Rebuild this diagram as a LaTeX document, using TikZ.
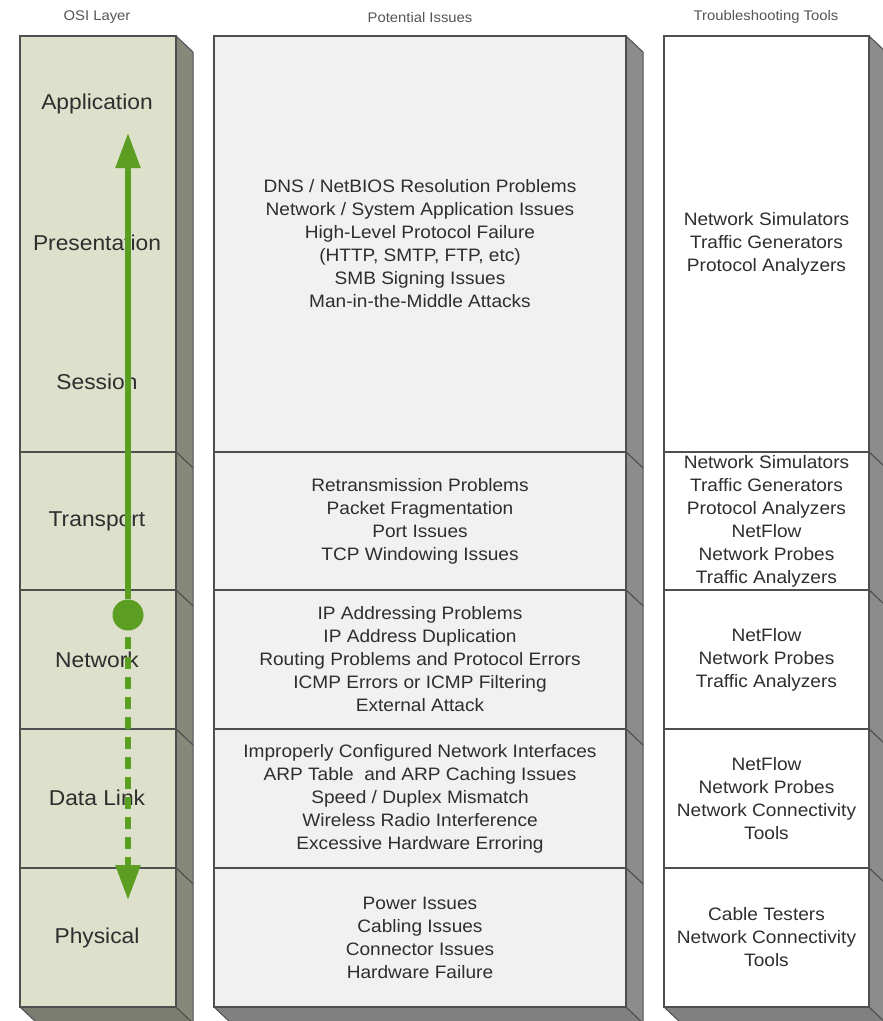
\documentclass[tikz,border=0pt]{standalone}
\usepackage{fontspec}
\setmainfont{Liberation Sans}[FakeStretch=1.06]
\usetikzlibrary{arrows.meta}

\definecolor{layerfill}{HTML}{DDE0CB}
\definecolor{layerside}{HTML}{86887A}
\definecolor{layerbottom}{HTML}{7A7C6F}
\definecolor{issuefill}{HTML}{F1F1F1}
\definecolor{greyside}{HTML}{8C8C8C}
\definecolor{greybottom}{HTML}{808080}
\definecolor{edge}{HTML}{4F4F4F}
\definecolor{ink}{HTML}{2E2E2E}
\definecolor{headink}{HTML}{555555}
\definecolor{arrowgreen}{HTML}{5B9E21}

\tikzset{
  face/.style={draw=edge, line width=1.5pt, rectangle, outer sep=0pt, inner sep=0pt,
    anchor=north west, font=\fontsize{18}{23}\selectfont, text=ink, align=center},
  sideface/.style={draw=edge, line width=1pt, line join=round},
  layerlabel/.style={font=\fontsize{21.5}{24}\selectfont, text=ink, inner sep=0pt},
  header/.style={font=\fontsize{14}{16}\selectfont, text=headink, inner sep=0pt},
  flow/.style={draw=arrowgreen, line width=5.5pt},
  flowtip/.style={-{Triangle[length=35pt,width=24pt]}},
}

% one block of a column: side face, then the front face carrying the text
% #1 name, #2 x0, #3 y0, #4 x1, #5 y1, #6 front fill, #7 side fill, #8 text
\newcommand{\osiblock}[8]{%
  \path[fill=#7, sideface] (#4,#3) -- (#4+17,#3+16) -- (#4+17,#5+16) -- (#4,#5) -- cycle;
  \node[face, fill=#6, minimum width={(#4-#2)*1pt}, minimum height={(#5-#3)*1pt}] (#1) at (#2,#3) {#8};
}
% bottom face under the last block of a column
\newcommand{\osibase}[4]{% #1 x0, #2 x1, #3 y1, #4 fill
  \path[fill=#4, sideface] (#1,#3) -- (#1+17,#3+16) -- (#2+17,#3+16) -- (#2,#3) -- cycle;
}

\begin{document}
\begin{tikzpicture}[x=1pt, y=-1pt]
\useasboundingbox (0,0) rectangle (883,1021);
\fill[white] (0,0) rectangle (883,1021);

% column headers
\node[header] (hlayer) at (97,17) {OSI Layer};
\node[header] (hissue) at (420,17) {Potential Issues};
\node[header] (htool) at (766,17) {Troubleshooting Tools};

% bottom faces
\osibase{20}{176}{1007}{layerbottom}
\osibase{214}{626}{1007}{greybottom}
\osibase{664}{869}{1007}{greybottom}

% OSI layer column
\osiblock{lupper}{20}{36}{176}{452}{layerfill}{layerside}{}
\osiblock{ltrans}{20}{452}{176}{590}{layerfill}{layerside}{}
\osiblock{lnet}{20}{590}{176}{729}{layerfill}{layerside}{}
\osiblock{llink}{20}{729}{176}{868}{layerfill}{layerside}{}
\osiblock{lphys}{20}{868}{176}{1007}{layerfill}{layerside}{}

\node[layerlabel] (app) at (97,104) {Application};
\node[layerlabel] (pres) at (97,243) {Presentation};
\node[layerlabel] (sess) at (97,382) {Session};
\node[layerlabel] (trans) at (97,521) {Transport};
\node[layerlabel] (net) at (97,660) {Network};
\node[layerlabel] (link) at (97,798) {Data Link};
\node[layerlabel] (phys) at (97,938) {Physical};

% potential issues column
\osiblock{iupper}{214}{36}{626}{452}{issuefill}{greyside}{DNS / NetBIOS Resolution Problems\\Network / System Application Issues\\High-Level Protocol Failure\\(HTTP, SMTP, FTP, etc)\\SMB Signing Issues\\Man-in-the-Middle Attacks}
\osiblock{itrans}{214}{452}{626}{590}{issuefill}{greyside}{Retransmission Problems\\Packet Fragmentation\\Port Issues\\TCP Windowing Issues}
\osiblock{inet}{214}{590}{626}{729}{issuefill}{greyside}{IP Addressing Problems\\IP Address Duplication\\Routing Problems and Protocol Errors\\ICMP Errors or ICMP Filtering\\External Attack}
\osiblock{ilink}{214}{729}{626}{868}{issuefill}{greyside}{Improperly Configured Network Interfaces\\ARP Table~ and ARP Caching Issues\\Speed / Duplex Mismatch\\Wireless Radio Interference\\Excessive Hardware Erroring}
\osiblock{iphys}{214}{868}{626}{1007}{issuefill}{greyside}{Power Issues\\Cabling Issues\\Connector Issues\\Hardware Failure}

% troubleshooting tools column
\osiblock{tupper}{664}{36}{869}{452}{white}{greyside}{Network Simulators\\Traffic Generators\\Protocol Analyzers}
\osiblock{ttrans}{664}{452}{869}{590}{white}{greyside}{Network Simulators\\Traffic Generators\\Protocol Analyzers\\NetFlow\\Network Probes\\Traffic Analyzers}
\osiblock{tnet}{664}{590}{869}{729}{white}{greyside}{NetFlow\\Network Probes\\Traffic Analyzers}
\osiblock{tlink}{664}{729}{869}{868}{white}{greyside}{NetFlow\\Network Probes\\Network Connectivity\\Tools}
\osiblock{tphys}{664}{868}{869}{1007}{white}{greyside}{Cable Testers\\Network Connectivity\\Tools}

% troubleshooting direction: up from the network layer, dashed down to the physical layer
\node[circle, fill=arrowgreen, minimum size=31pt, inner sep=0pt] (hub) at (128,615) {};
\coordinate (uptip) at (128,133);
\coordinate (downtip) at (128,900);
\draw[flow, flowtip] (hub) -- (uptip);
\draw[flow, flowtip, dash pattern=on 12pt off 8pt, dash phase=14pt] (hub) -- (downtip);
\end{tikzpicture}
\end{document}
